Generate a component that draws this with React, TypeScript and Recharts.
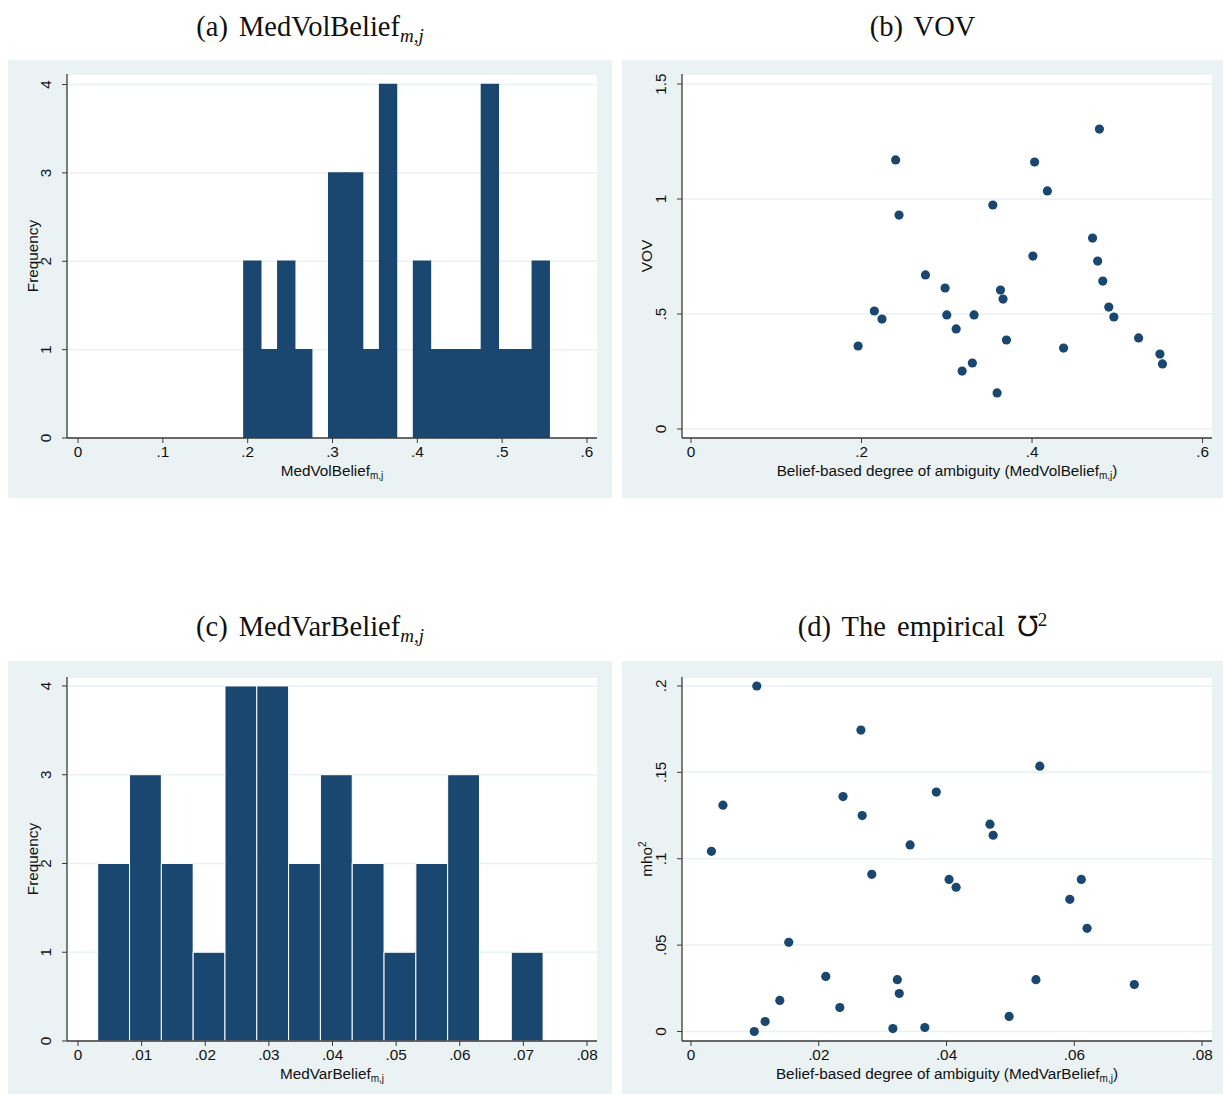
import React from 'react';
import { BarChart, Bar, ScatterChart, Scatter, XAxis, YAxis, CartesianGrid, Label } from 'recharts';

const NAVY = '#1a476f';
const BG = '#eaf2f3';
const AXIS = '#3a3a3a';
const INK = '#111';
const SANS = '"Liberation Sans", Arial, sans-serif';
const SERIF = '"Liberation Serif", "Times New Roman", serif';
const PLOT_W = 530;
const FS = 15.3;

// (a) histogram of MedVolBelief, bin width .02
const volBinMid = [0.2055, 0.2255, 0.2455, 0.2655, 0.2855, 0.3055, 0.3255, 0.3455, 0.3655, 0.3855, 0.4055, 0.4255, 0.4455, 0.4655, 0.4855, 0.5055, 0.5255, 0.5455];
const volBinCount = [2, 1, 2, 1, 0, 3, 3, 1, 4, 0, 2, 1, 1, 1, 4, 1, 1, 2];

// (c) histogram of MedVarBelief, bin width .005
const varBinMid = [0.0056, 0.0106, 0.0156, 0.0206, 0.0256, 0.0306, 0.0356, 0.0406, 0.0456, 0.0506, 0.0556, 0.0606, 0.0656, 0.0706];
const varBinCount = [2, 3, 2, 1, 4, 4, 2, 3, 2, 1, 2, 3, 0, 1];

// (b) VOV against MedVolBelief
const volBelief = [0.196, 0.215, 0.224, 0.240, 0.244, 0.275, 0.298, 0.300, 0.311, 0.318, 0.330, 0.332, 0.354, 0.359, 0.363, 0.366, 0.370, 0.401, 0.403, 0.418, 0.437, 0.471, 0.477, 0.483, 0.479, 0.490, 0.496, 0.525, 0.550, 0.553];
const vov = [0.361, 0.513, 0.478, 1.17, 0.930, 0.670, 0.613, 0.496, 0.435, 0.252, 0.287, 0.496, 0.974, 0.157, 0.604, 0.565, 0.387, 0.752, 1.161, 1.035, 0.352, 0.830, 0.730, 0.643, 1.304, 0.530, 0.487, 0.396, 0.326, 0.283];

// (d) mho^2 against MedVarBelief
const varBelief = [0.0032, 0.0050, 0.0103, 0.0099, 0.0116, 0.0139, 0.0153, 0.0211, 0.0233, 0.0238, 0.0266, 0.0268, 0.0283, 0.0316, 0.0323, 0.0326, 0.0343, 0.0366, 0.0384, 0.0404, 0.0415, 0.0468, 0.0473, 0.0498, 0.0540, 0.0546, 0.0593, 0.0611, 0.0620, 0.0694];
const mho2 = [0.1043, 0.131, 0.200, 0.000, 0.0058, 0.018, 0.0516, 0.0319, 0.0139, 0.136, 0.1745, 0.125, 0.091, 0.0017, 0.030, 0.022, 0.108, 0.0023, 0.1386, 0.088, 0.0835, 0.120, 0.1136, 0.0087, 0.030, 0.1536, 0.0765, 0.088, 0.0597, 0.0272];

const volHistTicks = [0, 0.1, 0.2, 0.3, 0.4, 0.5, 0.6];
const volScatterTicks = [0, 0.2, 0.4, 0.6];
const varHistTicks = [0, 0.01, 0.02, 0.03, 0.04, 0.05, 0.06, 0.07, 0.08];
const varScatterTicks = [0, 0.02, 0.04, 0.06, 0.08];
const freqTicks = [0, 1, 2, 3, 4];
const vovTicks = [0, 0.5, 1, 1.5];
const mhoTicks = [0, 0.05, 0.1, 0.15, 0.2];

const fmt = (v: number) => (v === 0 ? '0' : String(v).replace(/^0\./, '.'));

const YTick = (props: any) => {
  const { x, y, payload } = props;
  return (
    <text x={x} y={y} transform={`rotate(-90 ${x} ${y})`} textAnchor="middle" fontSize={FS} fill={INK} fontFamily={SANS}>
      {fmt(payload.value)}
    </text>
  );
};

const xTickStyle = { fontSize: FS, fill: INK, fontFamily: SANS };

function xLabel(main: string, tail?: string) {
  return (p: any) => {
    const vb = p.viewBox;
    return (
      <text x={vb.x + vb.width / 2} y={vb.y + 38} textAnchor="middle" fontSize={FS} fill={INK} fontFamily={SANS}>
        {main}
        <tspan fontSize={10} dy={3}>m,j</tspan>
        {tail ? <tspan dy={-3}>{tail}</tspan> : null}
      </text>
    );
  };
}

function yLabel(main: string, sup?: string) {
  return (p: any) => {
    const vb = p.viewBox;
    const x = vb.x + 30;
    const y = vb.y + vb.height / 2;
    return (
      <text x={x} y={y} transform={`rotate(-90 ${x} ${y})`} textAnchor="middle" fontSize={FS} fill={INK} fontFamily={SANS}>
        {main}
        {sup ? <tspan fontSize={10} dy={-6}>{sup}</tspan> : null}
      </text>
    );
  };
}

const Title = ({ left, top, width, children }: any) => (
  <div style={{ position: 'absolute', left, top, width, textAlign: 'center', fontFamily: SERIF, fontSize: 28.5, lineHeight: '30px', color: '#111', wordSpacing: 4 }}>
    {children}
  </div>
);

const Sub = () => (
  <span style={{ fontStyle: 'italic', fontSize: 19, position: 'relative', top: 6 }}>m,j</span>
);

const Sup = ({ children }: any) => (
  <span style={{ fontSize: 19, position: 'relative', top: -10 }}>{children}</span>
);

function Hist(props: any) {
  const { left, top, width, height, mt, xAxisH, mids, counts, binWidth, xDomain, xTicks, label, outline, yDomain } = props;
  const yAxisW = 59;
  const barPx = (PLOT_W / (xDomain[1] - xDomain[0])) * binWidth - 0.01;
  const data = mids.map((m: number, i: number) => ({ mid: m, count: counts[i] }));
  return (
    <div style={{ position: 'absolute', left, top, width, height, background: BG }}>
      <BarChart width={width} height={height} data={data} margin={{ top: mt, right: width - yAxisW - PLOT_W, bottom: 0, left: 0 }}>
        <CartesianGrid vertical={false} stroke={BG} strokeWidth={1.5} fill="#fff" />
        <XAxis type="number" dataKey="mid" domain={xDomain} ticks={xTicks} allowDataOverflow height={xAxisH}
          tickFormatter={fmt} tick={xTickStyle} tickSize={5} tickMargin={3}
          axisLine={{ stroke: AXIS, strokeWidth: 1.3 }} tickLine={{ stroke: AXIS }}>
          <Label content={xLabel(label)} />
        </XAxis>
        <YAxis type="number" domain={yDomain} ticks={freqTicks} allowDataOverflow width={yAxisW}
          tick={<YTick />} tickSize={5} tickMargin={11}
          axisLine={{ stroke: AXIS, strokeWidth: 1.3 }} tickLine={{ stroke: AXIS }}>
          <Label content={yLabel('Frequency')} />
        </YAxis>
        <Bar dataKey="count" fill={NAVY} barSize={barPx} stroke={outline} strokeWidth={outline === '#fff' ? 1 : 1.4} isAnimationActive={false} />
      </BarChart>
    </div>
  );
}

function Dots(props: any) {
  const { left, top, width, height, mt, xAxisH, xs, ys, xDomain, xTicks, yDomain, yTicks, label, yName, ySup } = props;
  const yAxisW = 60;
  const data = xs.map((x: number, i: number) => ({ x, y: ys[i] }));
  return (
    <div style={{ position: 'absolute', left, top, width, height, background: BG }}>
      <ScatterChart width={width} height={height} margin={{ top: mt, right: width - yAxisW - PLOT_W, bottom: 0, left: 0 }}>
        <CartesianGrid vertical={false} stroke={BG} strokeWidth={1.5} fill="#fff" />
        <XAxis type="number" dataKey="x" domain={xDomain} ticks={xTicks} allowDataOverflow height={xAxisH}
          tickFormatter={fmt} tick={xTickStyle} tickSize={5} tickMargin={3}
          axisLine={{ stroke: AXIS, strokeWidth: 1.3 }} tickLine={{ stroke: AXIS }}>
          <Label content={xLabel('Belief-based degree of ambiguity (' + label, ')')} />
        </XAxis>
        <YAxis type="number" dataKey="y" domain={yDomain} ticks={yTicks} allowDataOverflow width={yAxisW}
          tick={<YTick />} tickSize={5} tickMargin={11}
          axisLine={{ stroke: AXIS, strokeWidth: 1.3 }} tickLine={{ stroke: AXIS }}>
          <Label content={yLabel(yName, ySup)} />
        </YAxis>
        <Scatter data={data} fill={NAVY} isAnimationActive={false}
          shape={(p: any) => <circle cx={p.cx} cy={p.cy} r={4.6} fill={NAVY} />} />
      </ScatterChart>
    </div>
  );
}

export default function App() {
  return (
    <div style={{ position: 'absolute', left: 0, top: 0, width: 1223, height: 1094, background: '#fff', overflow: 'hidden' }}>
      <Title left={8} top={12} width={604}>(a) MedVolBelief<Sub /></Title>
      <Title left={622} top={12} width={601}>(b) VOV</Title>
      <Title left={8} top={612} width={604}>(c) MedVarBelief<Sub /></Title>
      <Title left={622} top={612} width={601}>(d) The empirical ℧<Sup>2</Sup></Title>

      <Hist left={8} top={60} width={604} height={438} mt={14} xAxisH={60}
        mids={volBinMid} counts={volBinCount} binWidth={0.02}
        xDomain={[-0.013, 0.6118]} xTicks={volHistTicks} yDomain={[0, 4.119]}
        label="MedVolBelief" outline={NAVY} />

      <Dots left={622} top={60} width={601} height={438} mt={14} xAxisH={60}
        xs={volBelief} ys={vov} xDomain={[-0.0106, 0.6111]} xTicks={volScatterTicks}
        yDomain={[-0.0391, 1.5435]} yTicks={vovTicks} label="MedVolBelief" yName="VOV" />

      <Hist left={8} top={661} width={604} height={433} mt={16} xAxisH={53}
        mids={varBinMid} counts={varBinCount} binWidth={0.005}
        xDomain={[-0.00173, 0.08157]} xTicks={varHistTicks} yDomain={[0, 4.101]}
        label="MedVarBelief" outline="#fff" />

      <Dots left={622} top={661} width={601} height={433} mt={16} xAxisH={53}
        xs={varBelief} ys={mho2} xDomain={[-0.00141, 0.08156]} xTicks={varScatterTicks}
        yDomain={[-0.0055, 0.2052]} yTicks={mhoTicks} label="MedVarBelief" yName="mho" ySup="2" />
    </div>
  );
}
